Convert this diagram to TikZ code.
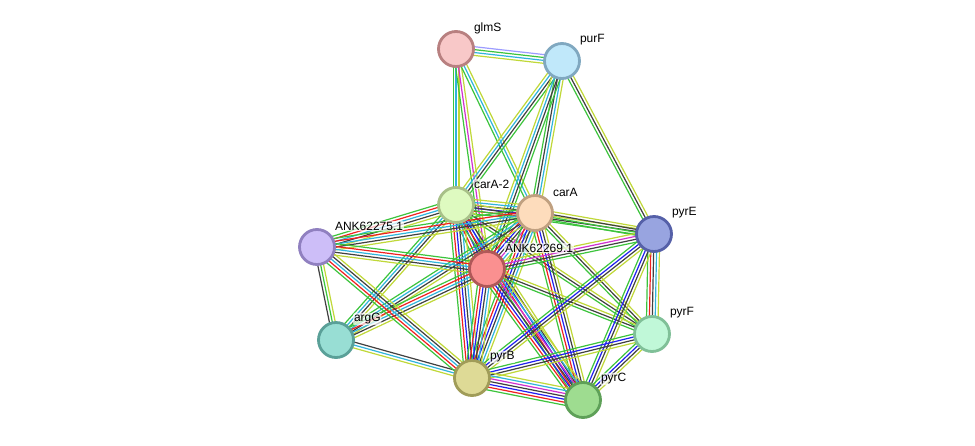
\documentclass[tikz,border=0pt]{standalone}
\usepackage{fontspec}
\setmainfont{Liberation Sans}
\usetikzlibrary{calc}
\definecolor{eG}{HTML}{3CC43C}
\definecolor{eR}{HTML}{F02020}
\definecolor{eB}{HTML}{2020F0}
\definecolor{eK}{HTML}{404040}
\definecolor{eM}{HTML}{D030D0}
\definecolor{eC}{HTML}{30B4DC}
\definecolor{eY}{HTML}{C0D838}
\definecolor{eL}{HTML}{9C9CFF}
\newcommand\strEdge[3]{%
  \foreach \c [count=\i] in {#3}{\xdef\strN{\i}}%
  \foreach \c [count=\i] in {#3}{%
    \pgfmathsetmacro\off{(\i-(\strN+1)/2)*2.9}%
    \draw[edgeline, color=\c] ($(#1)!\off pt!90:(#2)$) -- ($(#2)!\off pt!-90:(#1)$);
  }}
\tikzset{
  edgeline/.style={line width=1.2pt},
  prot/.style={circle, minimum size=35pt, inner sep=0pt, line width=2.8pt},
  plabel/.style={anchor=west, font=\fontsize{12}{14}\selectfont, text=black, inner sep=0.8pt,
    fill=white, fill opacity=0.7, text opacity=1, rounded corners=2pt}
}
\begin{document}
\begin{tikzpicture}[x=1pt,y=-1pt]
\path[use as bounding box, fill=white] (0,0) rectangle (975,445);
\coordinate (glmS) at (456,49);
\coordinate (purF) at (562,61);
\coordinate (carAtwo) at (456,205);
\coordinate (carA) at (535,213);
\coordinate (pyrE) at (654,234);
\coordinate (ankA) at (317,247);
\coordinate (ankB) at (487,269);
\coordinate (argG) at (336,340);
\coordinate (pyrF) at (652,334);
\coordinate (pyrB) at (472,378);
\coordinate (pyrC) at (583,400);
% edges
\strEdge{glmS}{purF}{eY,eC,eG,eL}
\strEdge{glmS}{carAtwo}{eG,eC,eY}
\strEdge{glmS}{ankB}{eG,eM,eY}
\strEdge{glmS}{carA}{eG,eC,eY}
\strEdge{purF}{carAtwo}{eY,eC,eK,eG}
\strEdge{purF}{carA}{eG,eK,eC,eY}
\strEdge{purF}{ankB}{eY,eC,eK,eG}
\strEdge{purF}{pyrE}{eG,eK,eY}
\strEdge{carAtwo}{carA}{eG,eR,eB,eK,eC,eY}
\strEdge{carAtwo}{ankB}{eG,eR,eB,eK,eC,eY}
\strEdge{carAtwo}{ankA}{eG,eR,eC,eK,eY}
\strEdge{carAtwo}{argG}{eG,eC,eK,eY}
\strEdge{carAtwo}{pyrB}{eG,eR,eB,eK,eC,eY}
\strEdge{carAtwo}{pyrC}{eG,eR,eB,eK,eY}
\strEdge{carAtwo}{pyrF}{eG,eK,eY}
\strEdge{carAtwo}{pyrE}{eG,eK,eY}
\strEdge{carA}{ankB}{eG,eR,eB,eK,eM,eC,eY}
\strEdge{carA}{ankA}{eG,eR,eC,eK,eY}
\strEdge{carA}{argG}{eG,eC,eK,eY}
\strEdge{carA}{pyrB}{eG,eR,eB,eK,eC,eY}
\strEdge{carA}{pyrC}{eG,eR,eB,eK,eY}
\strEdge{carA}{pyrF}{eG,eK,eY}
\strEdge{carA}{pyrE}{eG,eG,eK,eY}
\strEdge{ankB}{pyrE}{eG,eK,eM,eY}
\strEdge{ankB}{ankA}{eG,eR,eC,eK,eY}
\strEdge{ankB}{argG}{eG,eR,eC,eK,eY}
\strEdge{ankB}{pyrB}{eG,eR,eB,eK,eC,eY}
\strEdge{ankB}{pyrC}{eG,eR,eB,eK,eM,eC,eY}
\strEdge{ankB}{pyrF}{eG,eK,eY}
\strEdge{pyrE}{pyrF}{eG,eR,eK,eC,eY}
\strEdge{pyrE}{pyrC}{eG,eB,eK,eY}
\strEdge{pyrE}{pyrB}{eG,eB,eK,eY}
\strEdge{pyrF}{pyrC}{eG,eB,eK,eY}
\strEdge{pyrF}{pyrB}{eG,eB,eK,eY}
\strEdge{pyrB}{pyrC}{eG,eR,eB,eK,eM,eC,eY}
\strEdge{argG}{pyrB}{eY,eC,eK}
\strEdge{argG}{ankA}{eY,eG,eK}
\strEdge{ankA}{pyrB}{eG,eR,eC,eK,eY}
% nodes
\node[prot, fill={rgb,255:red,248;green,200;blue,200}, draw={rgb,255:red,184;green,128;blue,128}] (nglmS) at (glmS) {};
\node[prot, fill={rgb,255:red,192;green,232;blue,250}, draw={rgb,255:red,128;green,168;blue,192}] (npurF) at (purF) {};
\node[prot, fill={rgb,255:red,222;green,250;blue,192}, draw={rgb,255:red,168;green,192;blue,136}] (ncarAtwo) at (carAtwo) {};
\node[prot, fill={rgb,255:red,253;green,220;blue,188}, draw={rgb,255:red,192;green,160;blue,128}] (ncarA) at (carA) {};
\node[prot, fill={rgb,255:red,152;green,164;blue,224}, draw={rgb,255:red,85;green,96;blue,168}] (npyrE) at (pyrE) {};
\node[prot, fill={rgb,255:red,205;green,190;blue,248}, draw={rgb,255:red,144;green,128;blue,192}] (nankA) at (ankA) {};
\node[prot, fill={rgb,255:red,250;green,144;blue,144}, draw={rgb,255:red,176;green,88;blue,88}] (nankB) at (ankB) {};
\node[prot, fill={rgb,255:red,152;green,222;blue,212}, draw={rgb,255:red,90;green,160;blue,152}] (nargG) at (argG) {};
\node[prot, fill={rgb,255:red,192;green,248;blue,216}, draw={rgb,255:red,128;green,192;blue,152}] (npyrF) at (pyrF) {};
\node[prot, fill={rgb,255:red,222;green,218;blue,150}, draw={rgb,255:red,160;green,156;blue,88}] (npyrB) at (pyrB) {};
\node[prot, fill={rgb,255:red,158;green,220;blue,144}, draw={rgb,255:red,94;green,160;blue,88}] (npyrC) at (pyrC) {};
% labels
\node[plabel] (lglmS) at ($(glmS)+(17,-21)$) {glmS};
\node[plabel] (lpurF) at ($(purF)+(17,-21)$) {purF};
\node[plabel] (lcarAtwo) at ($(carAtwo)+(17,-21)$) {carA-2};
\node[plabel] (lcarA) at ($(carA)+(17,-21)$) {carA};
\node[plabel] (lpyrE) at ($(pyrE)+(17,-21)$) {pyrE};
\node[plabel] (lankA) at ($(ankA)+(17,-21)$) {ANK62275.1};
\node[plabel] (lankB) at ($(ankB)+(17,-21)$) {ANK62269.1};
\node[plabel] (largG) at ($(argG)+(17,-21)$) {argG};
\node[plabel] (lpyrF) at ($(pyrF)+(17,-21)$) {pyrF};
\node[plabel] (lpyrB) at ($(pyrB)+(17,-21)$) {pyrB};
\node[plabel] (lpyrC) at ($(pyrC)+(17,-21)$) {pyrC};
\end{tikzpicture}
\end{document}
